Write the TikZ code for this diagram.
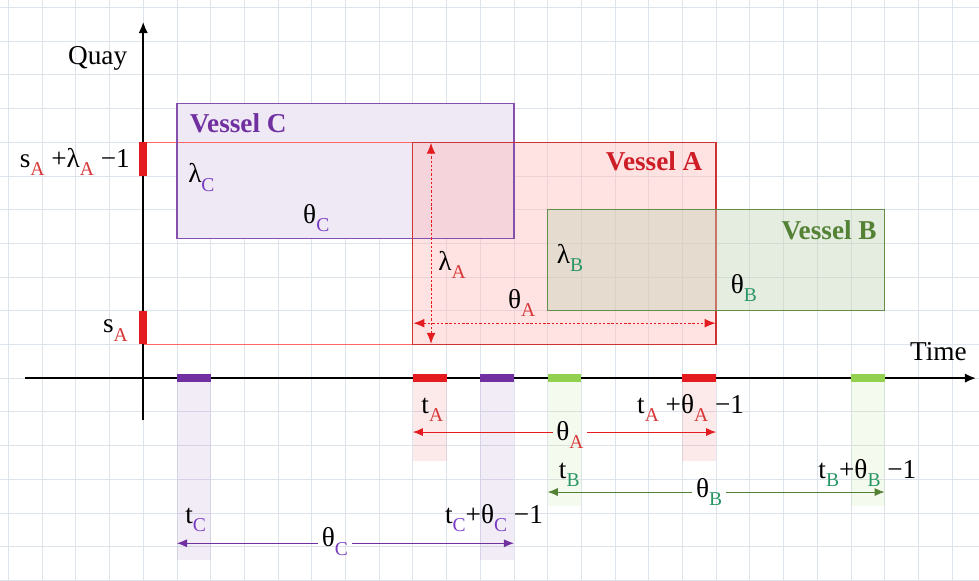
\documentclass[tikz,border=0pt]{standalone}
\usepackage{fontspec}
\setmainfont{Liberation Serif}
\usetikzlibrary{arrows.meta}
\definecolor{gridc}{RGB}{222,228,236}
\definecolor{redA}{RGB}{228,28,32}
\definecolor{redtxt}{RGB}{205,30,40}
\definecolor{subred}{RGB}{215,55,55}
\definecolor{purC}{RGB}{112,48,160}
\definecolor{subpur}{RGB}{120,60,195}
\definecolor{grnB}{RGB}{84,130,53}
\definecolor{subgrn}{RGB}{40,150,100}
\definecolor{grntick}{RGB}{146,208,80}
\newcommand{\vsub}[2]{\raisebox{-0.3em}{\fontsize{16.5}{17}\selectfont\color{#1}#2}}

\begin{document}
\begin{tikzpicture}[
  every node/.style={inner sep=0pt, font=\fontsize{23}{25}\selectfont},
  gridline/.style={draw=gridc, line width=0.7pt},
  axis/.style={line width=2pt, -{Latex[length=3.4mm,width=2.8mm]}},
  tickbar/.style={line width=0.24cm},
  strip/.style={opacity=0.09},
  vessel/.style={line width=1.1pt},
  guide/.style={draw=red!60, line width=0.8pt},
  dimline/.style={line width=0.8pt, -{Latex[length=3mm,width=2.4mm]}},
  dimboth/.style={line width=0.8pt, dash pattern=on 2pt off 1.6pt, {Latex[length=3.2mm,width=2.6mm]}-{Latex[length=3.2mm,width=2.6mm]}},
  dimgap/.style={inner xsep=3pt},
  vname/.style={font=\fontsize{23}{25}\selectfont\bfseries}
]
\useasboundingbox (-4.25,-6) rectangle (24.8,11.22);
\fill[white] (-4.25,-6) rectangle (24.8,11.22);
\draw[gridline] (-4.25,-6) grid (24.8,11.22);

\coordinate (o) at (0,0);
\coordinate (ytop) at (0,10.58);
\coordinate (ybot) at (0,-1.25);
\coordinate (xl) at (-3.5,0);
\coordinate (xr) at (24.72,0);

% strips under the time ticks
\fill[purC, strip] (1,0) rectangle (2,-5.4);
\fill[redA, strip] (8,0) rectangle (9,-2.45);
\fill[purC, strip] (10,0) rectangle (11,-5.4);
\fill[grntick, strip] (12,0) rectangle (13,-3.8);
\fill[redA, strip] (16,0) rectangle (17,-2.45);
\fill[grntick, strip] (21,0) rectangle (22,-3.8);

% vessels
\coordinate (C0) at (1,4.15);
\coordinate (C1) at (11,8.15);
\coordinate (A0) at (8,1);
\coordinate (A1) at (17,7);
\coordinate (B0) at (12,2);
\coordinate (B1) at (22,5);
\fill[purC!11] (C0) rectangle (C1);
\draw[guide] (0,1) -- (A0);
\draw[guide] (0,7) -- (A0 |- A1);
\fill[red!28, fill opacity=0.4] (A0) rectangle (A1);
\draw[vessel, purC!85] (C0) rectangle (C1);
\draw[vessel, red!75!black!80] (A0) rectangle (A1);
\fill[grnB!36, fill opacity=0.42] (B0) rectangle (B1);
\draw[vessel, grnB!90] (B0) rectangle (B1);

% axes
\draw[axis] (ybot) -- (ytop);
\draw[axis] (xl) -- (xr);

% ticks
\draw[tickbar, redA] (0,1) -- (0,2);
\draw[tickbar, redA] (0,6) -- (0,7);
\draw[tickbar, purC] (1,0) -- (2,0);
\draw[tickbar, redA] (8,0) -- (9,0);
\draw[tickbar, purC] (10,0) -- (11,0);
\draw[tickbar, grntick] (12,0) -- (13,0);
\draw[tickbar, redA] (16,0) -- (17,0);
\draw[tickbar, grntick] (21,0) -- (22,0);

% axis labels
\node[anchor=base east] (quay) at (-0.47,9.3) {Quay};
\node[anchor=base west] (time) at (22.75,0.53) {Time};
\node[anchor=base east] (sAtop) at (-0.39,6.26) {s\vsub{subred}{A} +λ\vsub{subred}{A} −1};
\node[anchor=base east] (sA) at (-0.45,1.34) {s\vsub{subred}{A}};

% names and sizes inside the vessels
\node[vname, purC, anchor=base west] (vC) at (1.38,7.3) {Vessel C};
\node[anchor=base west] (lamC) at (1.33,5.79) {λ\vsub{subpur}{C}};
\node[anchor=base west] (thC) at (4.74,4.6) {θ\vsub{subpur}{C}};
\node[vname, redtxt, anchor=base east] (vA) at (16.6,6.17) {Vessel A};
\node[anchor=base west] (lamA) at (8.75,3.2) {λ\vsub{subred}{A}};
\node[anchor=base west] (thA) at (10.82,2.08) {θ\vsub{subred}{A}};
\node[vname, grnB, anchor=base east] (vB) at (21.77,4.12) {Vessel B};
\node[anchor=base west] (lamB) at (12.27,3.41) {λ\vsub{subgrn}{B}};
\node[anchor=base west] (thB) at (17.43,2.52) {θ\vsub{subgrn}{B}};

\coordinate (hA0) at (8.02,1.63);
\coordinate (hA1) at (16.98,1.63);
\coordinate (vA0) at (8.54,1.02);
\coordinate (vA1) at (8.54,6.98);
\draw[dimboth, redA] (hA0) -- (hA1);
\draw[dimboth, redA] (vA0) -- (vA1);

% time spans
\node[anchor=base west] (tA) at (8.25,-1.04) {t\vsub{subred}{A}};
\node[anchor=base west] (tAend) at (14.65,-1.04) {t\vsub{subred}{A} +θ\vsub{subred}{A} −1};
\node[dimgap, anchor=base] (spA) at (12.66,-1.84) {θ\vsub{subred}{A}};
\coordinate (sA0) at (8,-1.6);
\coordinate (sA1) at (17,-1.6);
\draw[dimline, redA] (spA.west |- sA0) -- (sA0);
\draw[dimline, redA] (spA.east |- sA1) -- (sA1);

\node[anchor=base west] (tB) at (12.33,-2.97) {t\vsub{subgrn}{B}};
\node[anchor=base west] (tBend) at (20.03,-2.97) {t\vsub{subgrn}{B}+θ\vsub{subgrn}{B} −1};
\node[dimgap, anchor=base] (spB) at (16.79,-3.53) {θ\vsub{subgrn}{B}};
\coordinate (sB0) at (12,-3.38);
\coordinate (sB1) at (22,-3.38);
\draw[dimline, grnB] (spB.west |- sB0) -- (sB0);
\draw[dimline, grnB] (spB.east |- sB1) -- (sB1);

\node[anchor=base west] (tC) at (1.24,-4.3) {t\vsub{subpur}{C}};
\node[anchor=base west] (tCend) at (8.95,-4.3) {t\vsub{subpur}{C}+θ\vsub{subpur}{C} −1};
\node[dimgap, anchor=base] (spC) at (5.69,-5.01) {θ\vsub{subpur}{C}};
\coordinate (sC0) at (1,-4.9);
\coordinate (sC1) at (11,-4.9);
\draw[dimline, purC] (spC.west |- sC0) -- (sC0);
\draw[dimline, purC] (spC.east |- sC1) -- (sC1);
\end{tikzpicture}
\end{document}
